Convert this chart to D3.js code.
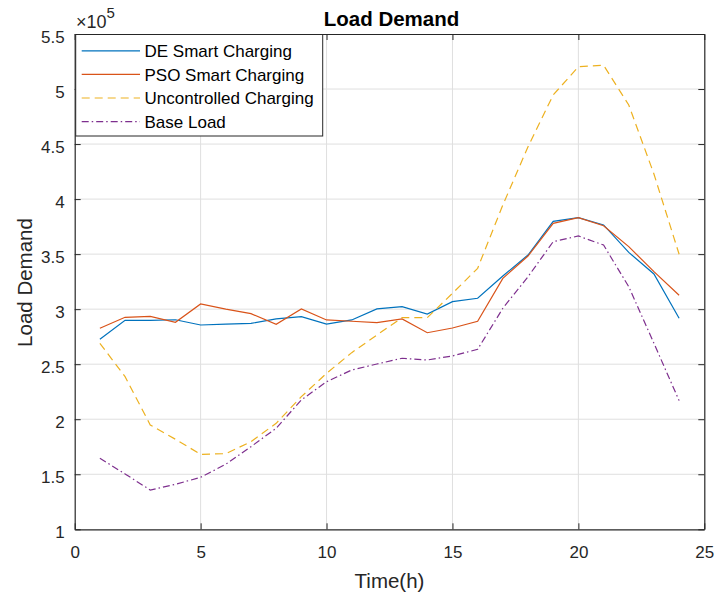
<!DOCTYPE html>
<html>
<head>
<meta charset="utf-8">
<script src="https://cdn.jsdelivr.net/npm/d3@7"></script>
<style>
  body { margin: 0; background: #fff; }
  svg { font-family: "Liberation Sans", Arial, sans-serif; }
</style>
</head>
<body>
<svg id="chart"></svg>
<script>
// hours 1..24
const hours = d3.range(1, 25)
const deSmart = [2.726, 2.899, 2.899, 2.904, 2.856, 2.865, 2.871, 2.911, 2.932, 2.865, 2.902, 3.002,
                 3.023, 2.956, 3.068, 3.099, 3.301, 3.492, 3.798, 3.831, 3.765, 3.516, 3.320, 2.917]
const psoSmart = [2.826, 2.926, 2.935, 2.881, 3.047, 3.000, 2.959, 2.862, 3.002, 2.902, 2.890, 2.878,
                  2.911, 2.786, 2.829, 2.890, 3.280, 3.483, 3.780, 3.831, 3.758, 3.568, 3.341, 3.126]
const uncontrolled = [2.690, 2.387, 1.948, 1.818, 1.681, 1.687, 1.796, 1.963, 2.205, 2.417, 2.605, 2.765,
                      2.923, 2.923, 3.144, 3.371, 3.946, 4.476, 4.946, 5.203, 5.216, 4.855, 4.228, 3.499]
const baseLoad = [1.645, 1.503, 1.357, 1.409, 1.472, 1.591, 1.751, 1.918, 2.175, 2.341, 2.447, 2.502,
                  2.554, 2.538, 2.575, 2.635, 3.008, 3.295, 3.613, 3.665, 3.583, 3.204, 2.690, 2.169]
const xTicks = [0, 5, 10, 15, 20, 25]
const yTicks = [1, 1.5, 2, 2.5, 3, 3.5, 4, 4.5, 5, 5.5]

const series = [
    { name: 'DE Smart Charging', values: deSmart, color: '#0072BD', dash: null },
    { name: 'PSO Smart Charging', values: psoSmart, color: '#D95319', dash: null },
    { name: 'Uncontrolled Charging', values: uncontrolled, color: '#EDB120', dash: '8,5' },
    { name: 'Base Load', values: baseLoad, color: '#7E2F8E', dash: '7,3,1.5,3' }
]

const width = 718
const height = 596
const m = { left: 74.7, right: 704.3, top: 34, bottom: 529.3 }
const axisColor = '#262626'

const svg = d3.select('#chart')
    .attr('width', width)
    .attr('height', height)

const x = d3.scaleLinear().domain([0, 25]).range([m.left, m.right])
const y = d3.scaleLinear().domain([1, 5.5]).range([m.bottom, m.top])

// grid
svg.append('g')
    .selectAll('line')
    .data(xTicks.slice(1, -1))
    .join('line')
        .attr('x1', d => x(d)).attr('x2', d => x(d))
        .attr('y1', m.top).attr('y2', m.bottom)
        .attr('stroke', '#dfdfdf').attr('stroke-width', 1)
svg.append('g')
    .selectAll('line')
    .data(yTicks.slice(1, -1))
    .join('line')
        .attr('x1', m.left).attr('x2', m.right)
        .attr('y1', d => y(d)).attr('y2', d => y(d))
        .attr('stroke', '#dfdfdf').attr('stroke-width', 1)

// axes (ticks inward, box on)
const tickLen = 6
const xAxis = d3.axisBottom(x).tickValues(xTicks).tickSizeInner(-tickLen).tickSizeOuter(0).tickPadding(16.5)
const yAxis = d3.axisLeft(y).tickValues(yTicks).tickFormat(d3.format('')).tickSizeInner(-tickLen).tickSizeOuter(0).tickPadding(10)

svg.append('g').attr('transform', `translate(0,${m.bottom})`).call(xAxis)
svg.append('g').attr('transform', `translate(${m.left},0)`).call(yAxis)
    .selectAll('.tick text').attr('dy', '0.47em')
svg.append('g').attr('transform', `translate(0,${m.top})`)
    .call(d3.axisTop(x).tickValues(xTicks).tickSizeInner(-tickLen).tickSizeOuter(0).tickFormat(''))
svg.append('g').attr('transform', `translate(${m.right},0)`)
    .call(d3.axisRight(y).tickValues(yTicks).tickSizeInner(-tickLen).tickSizeOuter(0).tickFormat(''))

svg.selectAll('.domain').attr('stroke', axisColor).attr('stroke-width', 1.2)
svg.selectAll('.tick line').attr('stroke', axisColor)
svg.selectAll('.tick text')
    .attr('fill', axisColor)
    .style('font-size', '17px')
    .style('font-family', '"Liberation Sans", Arial, sans-serif')

// lines
const line = d3.line()
    .x((d, i) => x(hours[i]))
    .y(d => y(d))

svg.append('g')
    .selectAll('path')
    .data(series)
    .join('path')
        .attr('d', s => line(s.values))
        .attr('fill', 'none')
        .attr('stroke', s => s.color)
        .attr('stroke-width', 1.2)
        .attr('stroke-dasharray', s => s.dash)

// legend
const lg = svg.append('g')
lg.append('rect')
    .attr('x', 75.7).attr('y', 34.5)
    .attr('width', 247).attr('height', 101.5)
    .attr('fill', '#fff').attr('stroke', axisColor).attr('stroke-width', 1)
series.forEach((s, i) => {
    const ly = 50.8 + i * 23.6
    lg.append('line')
        .attr('x1', 81.7).attr('x2', 140)
        .attr('y1', ly).attr('y2', ly)
        .attr('stroke', s.color).attr('stroke-width', 1.2)
        .attr('stroke-dasharray', s.dash)
    lg.append('text')
        .attr('x', 144.5).attr('y', ly + 6.3)
        .attr('fill', '#000')
        .style('font-size', '17px')
        .text(s.name)
})

// title and labels
svg.append('text')
    .attr('x', (m.left + m.right) / 2 + 2).attr('y', 26)
    .attr('text-anchor', 'middle')
    .style('font-size', '20.5px').style('font-weight', 'bold')
    .text('Load Demand')

svg.append('text')
    .attr('x', (m.left + m.right) / 2).attr('y', 588)
    .attr('text-anchor', 'middle')
    .attr('fill', axisColor)
    .style('font-size', '20.5px')
    .text('Time(h)')

svg.append('text')
    .attr('transform', `translate(31.5,282.5) rotate(-90)`)
    .attr('text-anchor', 'middle')
    .attr('fill', axisColor)
    .style('font-size', '20.5px')
    .text('Load Demand')

const exp = svg.append('text')
    .attr('x', 76).attr('y', 28.3)
    .attr('fill', axisColor)
    .style('font-size', '18px')
exp.append('tspan').text('×10')
exp.append('tspan').attr('dy', -10).style('font-size', '15px').text('5')
</script>
</body>
</html>
